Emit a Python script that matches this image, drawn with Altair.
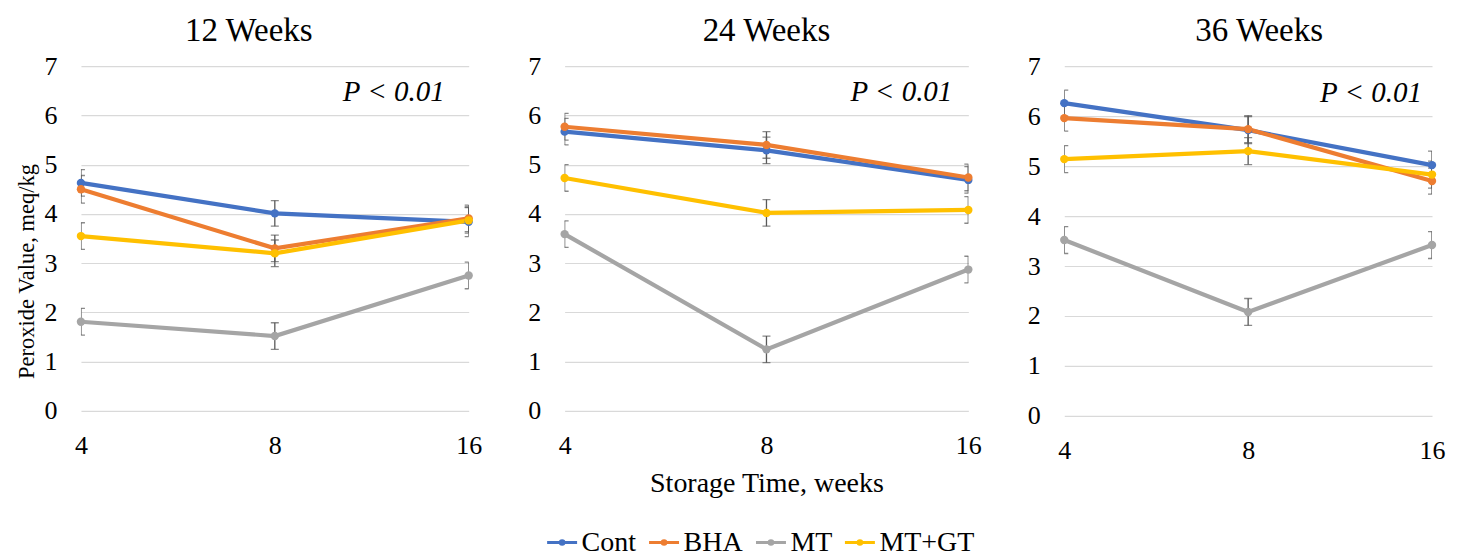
import altair as alt
import pandas as pd

panels = ["12 Weeks", "24 Weeks", "36 Weeks"]
storage_weeks = ["4", "8", "16"]
series_names = ["Cont", "BHA", "MT", "MT+GT"]
series_colors = ["#4472C4", "#ED7D31", "#A5A5A5", "#FFC000"]

# Peroxide value (meq/kg) at storage weeks 4, 8, 16
cont_12 = [4.63, 4.01, 3.84]
bha_12 = [4.50, 3.30, 3.91]
mt_12 = [1.81, 1.52, 2.75]
mtgt_12 = [3.55, 3.20, 3.87]

cont_24 = [5.67, 5.29, 4.69]
bha_24 = [5.77, 5.40, 4.74]
mt_24 = [3.59, 1.25, 2.87]
mtgt_24 = [4.73, 4.02, 4.08]

cont_36 = [6.26, 5.72, 5.02]
bha_36 = [5.96, 5.74, 4.70]
mt_36 = [3.52, 2.08, 3.42]
mtgt_36 = [5.14, 5.30, 4.83]

# error bar half-widths
err_cont_12 = [0.27, 0.26, 0.30]
err_bha_12 = [0.28, 0.27, 0.27]
err_mt_12 = [0.27, 0.27, 0.27]
err_mtgt_12 = [0.27, 0.27, 0.26]

err_cont_24 = [0.27, 0.27, 0.27]
err_bha_24 = [0.27, 0.27, 0.27]
err_mt_24 = [0.27, 0.27, 0.27]
err_mtgt_24 = [0.27, 0.27, 0.27]

err_cont_36 = [0.26, 0.27, 0.28]
err_bha_36 = [0.26, 0.27, 0.26]
err_mt_36 = [0.27, 0.27, 0.27]
err_mtgt_36 = [0.27, 0.27, 0.27]

p_label = "P < 0.01"
p_label_y = 6.47

values = {
    "12 Weeks": [cont_12, bha_12, mt_12, mtgt_12],
    "24 Weeks": [cont_24, bha_24, mt_24, mtgt_24],
    "36 Weeks": [cont_36, bha_36, mt_36, mtgt_36],
}
errors = {
    "12 Weeks": [err_cont_12, err_bha_12, err_mt_12, err_mtgt_12],
    "24 Weeks": [err_cont_24, err_bha_24, err_mt_24, err_mtgt_24],
    "36 Weeks": [err_cont_36, err_bha_36, err_mt_36, err_mtgt_36],
}

rows = []
for p in panels:
    for si, s in enumerate(series_names):
        for wi, w in enumerate(storage_weeks):
            v = values[p][si][wi]
            e = errors[p][si][wi]
            rows.append({"panel": p, "week": w, "series": s, "sidx": si,
                         "value": v, "lo": v - e, "hi": v + e})
df = pd.DataFrame(rows)

FONT = "Liberation Serif"
ERR_COLOR = "#595959"

legend = alt.Legend(
    title=None, orient="none", direction="horizontal",
    legendX=465, legendY=460,
    symbolType="M-1,0H1M-0.12,0A0.12,0.12,0,1,1,0.12,0A0.12,0.12,0,1,1,-0.12,0Z",
    symbolSize=900, symbolStrokeWidth=3,
    labelFont=FONT, labelFontSize=28, labelColor="#000000",
    labelOffset=3, columnPadding=6,
)


def make_panel(name, width, height, y_title, x_title, title_dx, p_dx):
    d = df[df.panel == name]
    xenc = alt.X(
        "week:O", sort=storage_weeks,
        scale=alt.Scale(type="point", padding=0),
        axis=alt.Axis(
            title=x_title, labelAngle=0, ticks=False, domain=False, grid=False,
            labelPadding=22, labelFontSize=26, labelFont=FONT, labelColor="#000000",
            titleFont=FONT, titleFontSize=28, titleFontWeight="normal",
            titleColor="#000000", titleY=59,
        ),
    )
    yaxis_kwargs = dict(
        values=[0, 1, 2, 3, 4, 5, 6, 7], ticks=False, domain=False, grid=True,
        gridColor="#D9D9D9", gridWidth=1.2, labelPadding=24, labelFontSize=26,
        labelFont=FONT, labelColor="#000000",
    )
    if y_title:
        yaxis_kwargs.update(title=y_title, titleFont=FONT, titleFontSize=22.5,
                            titleFontWeight="normal", titleColor="#000000",
                            titleX=-42, titleY=205)
    else:
        yaxis_kwargs.update(title=None)
    yscale = alt.Scale(domain=[0, 7], nice=False)
    base = alt.Chart(d)
    rule = base.mark_rule(color=ERR_COLOR, strokeWidth=1.3, clip=True).encode(
        x=xenc, y=alt.Y("lo:Q", scale=yscale, axis=alt.Axis(**yaxis_kwargs)), y2="hi:Q")
    cap_lo = base.mark_tick(color=ERR_COLOR, thickness=1.3, size=8, clip=True).encode(
        x=xenc, y=alt.Y("lo:Q", scale=yscale))
    cap_hi = base.mark_tick(color=ERR_COLOR, thickness=1.3, size=8, clip=True).encode(
        x=xenc, y=alt.Y("hi:Q", scale=yscale))
    color = alt.Color("series:N", sort=series_names,
                      scale=alt.Scale(domain=series_names, range=series_colors),
                      legend=legend)
    line = base.mark_line(strokeWidth=4.2).encode(
        x=xenc, y=alt.Y("value:Q", scale=yscale), color=color,
        detail="series:N")
    pts = base.mark_point(filled=True, size=70, opacity=1).encode(
        x=xenc, y=alt.Y("value:Q", scale=yscale), color=color)
    ptxt = alt.Chart(pd.DataFrame({"week": ["16"], "value": [p_label_y], "t": [p_label]})).mark_text(
        align="right", baseline="middle", font=FONT, fontSize=29, fontStyle="italic",
        color="#000000", dx=p_dx).encode(
        x=alt.X("week:O", sort=storage_weeks), y=alt.Y("value:Q", scale=yscale), text="t:N")
    return alt.layer(rule, cap_lo, cap_hi, line, pts, ptxt).properties(
        width=width, height=height,
        title=alt.TitleParams(name, font=FONT, fontSize=33, fontWeight="normal",
                              color="#000000", dx=title_dx, offset=5),
    )


p1 = make_panel("12 Weeks", 388, 345, "Peroxide Value, meq/kg", None, -26, -24)
p2 = make_panel("24 Weeks", 404, 345, None, "Storage Time, weeks", 0, -16)
p3 = make_panel("36 Weeks", 368, 350, None, None, 11, -10)

chart = alt.hconcat(p1, p2, p3, spacing=96, bounds="flush").configure(
    font=FONT
).configure_view(
    stroke=None
).configure_legend(
    labelFont=FONT, labelFontSize=28, labelColor="#000000"
).properties(padding={"left": 8, "right": 5, "top": 7, "bottom": 2})

chart.save("out.html", embed_options={"renderer": "svg", "actions": False})
